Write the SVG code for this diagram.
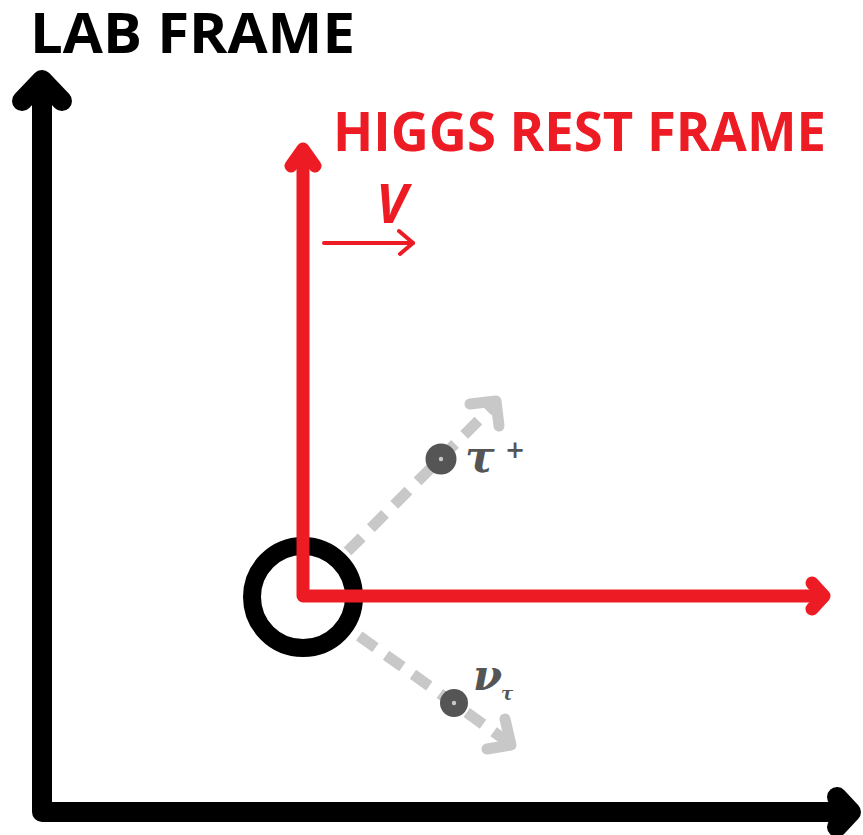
<svg xmlns="http://www.w3.org/2000/svg" width="863" height="835" viewBox="0 0 863 835">
<style>
.title{font-family:"Open Sans","Liberation Sans",sans-serif;font-weight:bold}
.blk{fill:none;stroke:#000;stroke-width:20;stroke-linecap:round;stroke-linejoin:round}
.red{fill:none;stroke:#ED1C24;stroke-width:13;stroke-linecap:round;stroke-linejoin:round}
.gray{fill:none;stroke:#C8C8C8;stroke-width:11}
.grayhead{fill:none;stroke:#C8C8C8;stroke-width:11;stroke-linecap:round;stroke-linejoin:round}
.dot{fill:#555555}
.dotc{fill:#C8C8C8}
.lbl{font-family:"DejaVu Serif","Liberation Serif",serif;font-style:italic;font-weight:bold;fill:#555555}
</style>
<rect width="863" height="835" fill="#fff"/>
<g id="lab-frame">
<path class="blk" d="M42,82 L42,812 L850,812"/>
<polyline class="blk" points="22,101 42,80 62,101"/>
<polyline class="blk" points="837,797 851,812 837,827"/>
<text class="title" x="30" y="53" font-size="56" textLength="325" lengthAdjust="spacingAndGlyphs" fill="#000">LAB FRAME</text>
</g>
<g id="connectors">
<line class="gray" x1="303" y1="596" x2="494" y2="405" stroke-dasharray="20 13" stroke-dashoffset="3"/>
<polyline class="grayhead" points="470,404 496,401 499,426"/>
<line class="gray" x1="303" y1="596" x2="508" y2="742" stroke-dasharray="20 13" stroke-dashoffset="30"/>
<polyline class="grayhead" points="505,719 511,745 487,749"/>
</g>
<g id="higgs">
<circle cx="303" cy="597" r="51" fill="#fff" stroke="#000" stroke-width="18"/>
</g>
<g id="higgs-rest-frame">
<path class="red" d="M303,150 L303,596 L822,596"/>
<polyline class="red" points="291,166 303,149 315,166"/>
<polyline class="red" points="812,583 824,596 812,609"/>
<text class="title" x="333" y="151" font-size="54" textLength="493" lengthAdjust="spacingAndGlyphs" fill="#ED1C24">HIGGS REST FRAME</text>
<text x="376" y="223" fill="#ED1C24" font-family="Open Sans, Liberation Sans, sans-serif" font-weight="bold" font-style="italic" font-size="53">V</text>
<line x1="324" y1="243" x2="413" y2="243" stroke="#ED1C24" stroke-width="4" stroke-linecap="round"/>
<polyline points="399,231 413,243 400,254" fill="none" stroke="#ED1C24" stroke-width="4" stroke-linecap="round" stroke-linejoin="round"/>
</g>
<g id="tau">
<circle class="dot" cx="441" cy="459" r="15.5"/>
<circle class="dotc" cx="441" cy="459" r="2.2"/>
<text class="lbl" x="465" y="472" font-size="44">τ</text>
<text class="lbl" x="505" y="458" font-size="24" font-style="normal">+</text>
</g>
<g id="neutrino">
<circle class="dot" cx="454" cy="703" r="14"/>
<circle class="dotc" cx="454" cy="703" r="2.2"/>
<text class="lbl" x="473" y="690" font-size="42">ν</text>
<text class="lbl" x="501" y="700" font-size="18">τ</text>
</g>
</svg>
